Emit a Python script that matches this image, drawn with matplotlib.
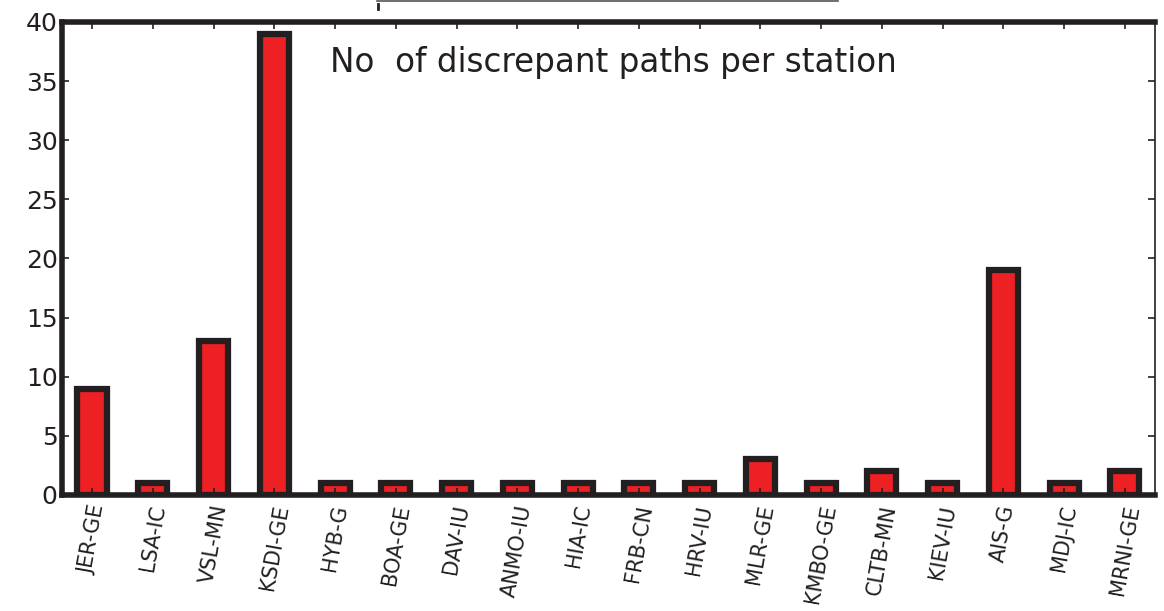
import matplotlib.pyplot as plt
import numpy as np
from matplotlib.lines import Line2D

# Discrepant path counts per station
stations = ['JER-GE', 'LSA-IC', 'VSL-MN', 'KSDI-GE', 'HYB-G', 'BOA-GE', 'DAV-IU',
            'ANMO-IU', 'HIA-IC', 'FRB-CN', 'HRV-IU', 'MLR-GE', 'KMBO-GE', 'CLTB-MN',
            'KIEV-IU', 'AIS-G', 'MDJ-IC', 'MRNI-GE']
counts = [9, 1, 13, 39, 1, 1, 1, 1, 1, 1, 1, 3, 1, 2, 1, 19, 1, 2]
yticks = [0, 5, 10, 15, 20, 25, 30, 35, 40]

plt.rcParams['font.family'] = 'DejaVu Sans'
dark = '#231f20'

fig = plt.figure(figsize=(11.64, 6.11), dpi=100)
ax = fig.add_axes([0.053, 0.19, 0.9395, 0.774])

x = np.arange(len(stations))
ax.bar(x, counts, width=0.48, color='#ed2024', edgecolor=dark, linewidth=4.5, zorder=1)

ax.set_xlim(-0.5, len(stations) - 0.5)
ax.set_ylim(0, 40)
ax.set_xticks(x)
ax.set_xticklabels(stations, rotation=80, fontsize=15, color=dark)
ax.set_yticks(yticks)
ax.set_yticklabels([str(v) for v in yticks], fontsize=18, color=dark)

ax.tick_params(direction='in', length=5, width=1.2, color=dark,
               top=True, right=True)
ax.tick_params(axis='x', pad=6)
ax.tick_params(axis='y', pad=3)
for side in ['left', 'top', 'bottom']:
    ax.spines[side].set_linewidth(4)
    ax.spines[side].set_color(dark)
ax.spines['right'].set_linewidth(1.2)
ax.spines['right'].set_color(dark)
for t in ax.xaxis.get_major_ticks():
    t.tick1line.set_zorder(5)

ax.text(0.245, 0.915, 'No  of discrepant paths per station', transform=ax.transAxes,
        fontsize=23.5, color=dark, va='center', ha='left')

# edge of the neighbouring panel above
fig.add_artist(Line2D([0.324, 0.72], [0.998, 0.998], transform=fig.transFigure,
                      color='#555555', linewidth=1.2))
fig.add_artist(Line2D([0.3245, 0.3245], [0.985, 0.993], transform=fig.transFigure,
                      color=dark, linewidth=2))

fig.savefig('out.png', dpi=100)
